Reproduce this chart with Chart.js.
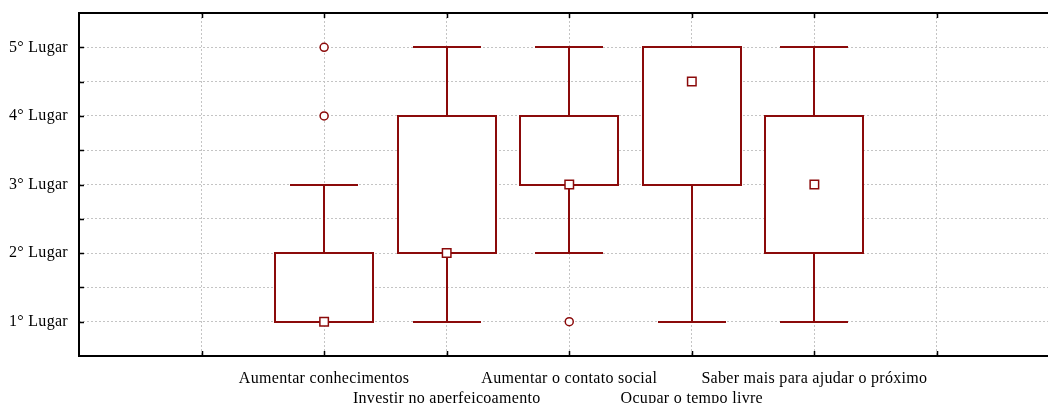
<!DOCTYPE html>
<html>
<head>
<meta charset="utf-8">
<script src="https://cdn.jsdelivr.net/npm/chart.js@4"></script>
<style>
  html, body { margin: 0; padding: 0; background: #fff; overflow: hidden; }
</style>
</head>
<body>
<canvas id="boxChart" width="1067" height="403"></canvas>
<script>
// categories sit at x = 2..6 on a 0..8 axis (1 and 7 are empty slots)
const categories = ['Aumentar conhecimentos', 'Investir no aperfeiçoamento', 'Aumentar o contato social', 'Ocupar o tempo livre', 'Saber mais para ajudar o próximo'];
const positions = [2, 3, 4, 5, 6];
const boxLow = [1, 2, 3, 3, 2];
const boxHigh = [2, 4, 4, 5, 4];
const whiskerLow = [1, 1, 2, 1, 1];
const whiskerHigh = [3, 5, 5, 5, 5];
const medians = [1, 2, 3, 4.5, 3];
const outliers = [[4, 5], [], [1], [], []];
const yTickLabels = ['1° Lugar', '2° Lugar', '3° Lugar', '4° Lugar', '5° Lugar'];

const red = '#8b0a0a';
const serif = "'Liberation Serif', 'Times New Roman', serif";

const boxData = positions.map((p, i) => ({ x: p, y: [boxLow[i], boxHigh[i]] }));
const medianData = positions.map((p, i) => ({ x: p, y: medians[i] }));
const outlierData = [];
outliers.forEach((list, i) => list.forEach(v => outlierData.push({ x: positions[i], y: v })));

// box outlines, whiskers, frame and inner tick marks
const boxExtras = {
    id: 'boxExtras',
    beforeDraw(chart) {
        chart.ctx.letterSpacing = '0.3px';
    },
    afterDatasetDraw(chart, args) {
        if (args.index !== 0) return;
        const { ctx, scales: { x, y } } = chart;
        ctx.save();
        ctx.strokeStyle = red;
        ctx.lineWidth = 2;
        // outline centred on the value lines (bar borders are drawn inset)
        chart.getDatasetMeta(0).data.forEach(bar => {
            const left = Math.round(bar.x - bar.width / 2);
            const top = Math.round(bar.y);
            const bottom = Math.round(bar.base);
            ctx.strokeRect(left, top, Math.round(bar.width), bottom - top);
        });
        positions.forEach((p, i) => {
            const px = Math.round(x.getPixelForValue(p));
            const segs = [[whiskerHigh[i], boxHigh[i]], [boxLow[i], whiskerLow[i]]];
            segs.forEach(([a, b]) => {
                ctx.beginPath();
                ctx.moveTo(px, Math.round(y.getPixelForValue(a)));
                ctx.lineTo(px, Math.round(y.getPixelForValue(b)));
                ctx.stroke();
            });
            [whiskerHigh[i], whiskerLow[i]].forEach(v => {
                const py = Math.round(y.getPixelForValue(v));
                ctx.beginPath();
                ctx.moveTo(px - 34, py);
                ctx.lineTo(px + 34, py);
                ctx.stroke();
            });
        });
        ctx.restore();
    },
    afterDraw(chart) {
        const { ctx, chartArea: a, scales: { x, y } } = chart;
        ctx.save();
        ctx.strokeStyle = '#000';
        ctx.lineWidth = 2;
        ctx.strokeRect(a.left, a.top, a.right - a.left, a.bottom - a.top);
        ctx.lineWidth = 1.5;
        ctx.beginPath();
        x.ticks.forEach(t => {
            if (t.value <= x.min || t.value >= x.max) return;
            const px = Math.round(x.getPixelForValue(t.value)) + 0.5;
            ctx.moveTo(px, a.top); ctx.lineTo(px, a.top + 5);
            ctx.moveTo(px, a.bottom); ctx.lineTo(px, a.bottom - 5);
        });
        y.ticks.forEach(t => {
            if (t.value <= y.min || t.value >= y.max) return;
            const py = Math.round(y.getPixelForValue(t.value)) + 0.5;
            ctx.moveTo(a.left, py); ctx.lineTo(a.left + 5, py);
        });
        ctx.stroke();
        ctx.restore();
    }
};

const ctx = document.getElementById('boxChart').getContext('2d');

const boxChart = new Chart(ctx, {
    type: 'bar',
    data: {
        datasets: [{
            type: 'bar',
            data: boxData,
            backgroundColor: '#ffffff',
            borderWidth: 0,
            barThickness: 98,
            order: 3
        }, {
            type: 'scatter',
            data: medianData,
            pointStyle: 'rect',
            pointRadius: 6,
            pointBackgroundColor: '#ffffff',
            pointBorderColor: red,
            pointBorderWidth: 1.5,
            order: 2
        }, {
            type: 'scatter',
            data: outlierData,
            pointStyle: 'circle',
            pointRadius: 4,
            pointBackgroundColor: '#ffffff',
            pointBorderColor: red,
            pointBorderWidth: 1.5,
            order: 1
        }]
    },
    options: {
        responsive: false,
        animation: false,
        layout: { padding: { top: 13, right: 2, left: 0, bottom: 0 } },
        plugins: {
            legend: { display: false },
            tooltip: { enabled: false }
        },
        scales: {
            x: {
                type: 'linear',
                min: 0,
                max: 8,
                offset: false,
                afterFit: s => { s.height = 47; s.paddingLeft = 0; s.paddingRight = 0; },
                border: { display: false, dash: [2, 2] },
                grid: {
                    color: '#c4c4c4',
                    offset: false,
                    drawTicks: false
                },
                ticks: {
                    stepSize: 1,
                    autoSkip: false,
                    maxRotation: 0,
                    padding: 12,
                    color: '#000',
                    font: { family: serif, size: 16, lineHeight: 1.3 },
                    callback: v => {
                        const i = positions.indexOf(v);
                        if (i < 0) return '';
                        return i % 2 === 0 ? [categories[i]] : ['', categories[i]];
                    }
                }
            },
            y: {
                min: 0.5,
                max: 5.5,
                afterFit: s => { s.width = 79; s.paddingTop = 0; s.paddingBottom = 0; },
                border: { display: false, dash: [2, 2] },
                grid: {
                    color: '#c4c4c4',
                    drawTicks: false
                },
                ticks: {
                    stepSize: 0.5,
                    padding: 11,
                    color: '#000',
                    font: { family: serif, size: 16 },
                    callback: v => Number.isInteger(v) ? yTickLabels[v - 1] : ''
                }
            }
        }
    },
    plugins: [boxExtras]
});
</script>
</body>
</html>
